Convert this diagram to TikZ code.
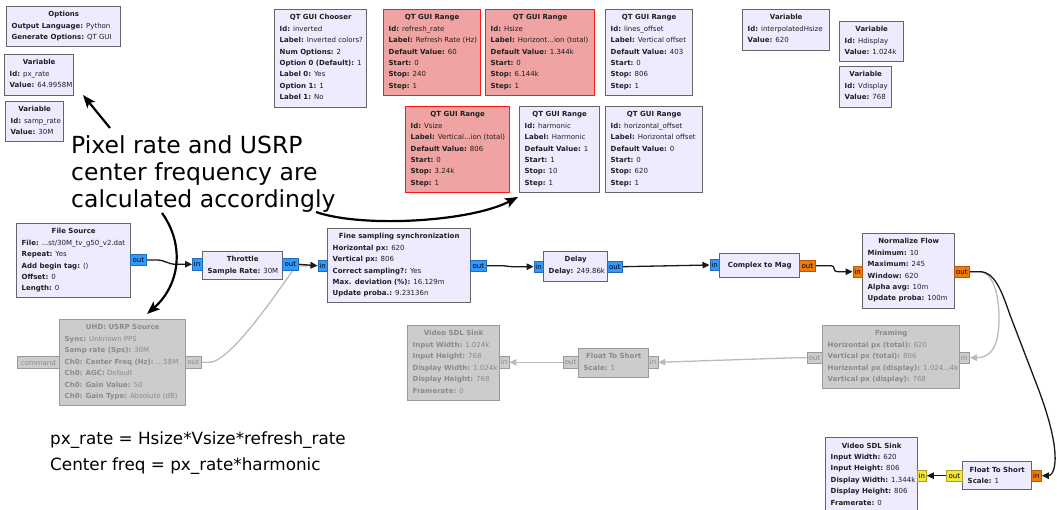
\documentclass[tikz,border=0pt]{standalone}
\usepackage{fontspec}
\setmainfont{DejaVu Sans}
\usetikzlibrary{arrows.meta,calc}

\definecolor{blkfill}{HTML}{EEEBFF}
\definecolor{blkedge}{HTML}{656565}
\definecolor{redfill}{HTML}{F0A3A3}
\definecolor{rededge}{HTML}{FF1A1A}
\definecolor{offfill}{HTML}{CCCCCC}
\definecolor{offedge}{HTML}{9A9A9A}
\definecolor{offtext}{HTML}{8A8A8A}
\definecolor{cplx}{HTML}{3399FF}
\definecolor{fltc}{HTML}{F07A0C}
\definecolor{shrt}{HTML}{F5E63C}
\definecolor{offwire}{HTML}{BBBBBB}

% key: value line of a block
\newcommand\kv[2]{\textbf{#1:} #2}

\tikzset{
  box on/.style={draw=blkedge, fill=blkfill},
  box red/.style={draw=rededge, fill=redfill},
  box off/.style={draw=offedge, fill=offfill},
  grcbox/.style={line width=1.4pt, inner sep=0pt, anchor=north west},
  txt on/.style={text=black!88},
  txt red/.style={text=black!88},
  txt off/.style={text=offtext},
  blkfont/.style={font=\fontsize{7}{8.4}\selectfont, inner sep=0pt},
  ttl/.style={inner sep=0pt, font=\fontsize{7}{8.4}\selectfont\bfseries, anchor=base},
  row/.style={blkfont, anchor=base west},
  port/.style={line width=0.8pt, inner sep=0pt, minimum height=11.5pt, anchor=west,
    font=\fontsize{7}{8}\selectfont},
  port cplx/.style={port, fill=cplx, draw=cplx!70!black},
  port flt/.style={port, fill=fltc, draw=fltc!75!black},
  port shrt/.style={port, fill=shrt, draw=shrt!70!black},
  port off/.style={port, fill=offfill, draw=offedge, text=offtext},
  wire/.style={line width=1.3pt, color=black!90, -{Triangle[length=7pt,width=6.5pt]}},
  wire off/.style={wire, color=offwire},
  note arrow/.style={line width=2.2pt, -{Stealth[length=13pt,width=10pt,inset=3pt]}},
  notefont/.style={font=\fontsize{23.5}{27}\selectfont, inner sep=0pt, align=left},
}

% name, kind, x, y, width, height, title, rows
\newcommand\grcblk[8]{%
  \node[grcbox, box #2, minimum width=#5pt, minimum height=#6pt] (#1) at (#3,-#4) {};
  \node[ttl, txt #2] at ($(#1.north)+(0,-11)$) {#7};
  \foreach \rowtxt [count=\i] in {#8}{%
    \node[row, txt #2] at ($(#1.north west)+(5.5,{-11-11.4*\i})$) {\rowtxt};
  }%
}
% name, kind, x, y-centre, width, label
\newcommand\grcport[6]{%
  \node[port #2, minimum width=#5pt] (#1) at (#3,-#4) {#6};
}
% all ports of the flowgraph
\newcommand\allports{%
  \grcport{fsrcout}{cplx}{130}{260}{16}{out}
  \grcport{thrin}{cplx}{192}{264.3}{9.5}{in}
  \grcport{throut}{cplx}{282}{264.3}{16}{out}
  \grcport{finein}{cplx}{317.5}{265.7}{9.5}{in}
  \grcport{fineout}{cplx}{470}{265.7}{16}{out}
  \grcport{delayin}{cplx}{533.5}{266.7}{9.5}{in}
  \grcport{delayout}{cplx}{607}{266.7}{15}{out}
  \grcport{ctmin}{cplx}{709.5}{265}{9.5}{in}
  \grcport{ctmout}{flt}{799}{265.7}{16}{out}
  \grcport{nfin}{flt}{852.5}{271.7}{9.5}{in}
  \grcport{nfout}{flt}{954}{271.7}{15}{out}
  \grcport{usrpcmd}{off}{17}{362.5}{42}{command}
  \grcport{usrpout}{off}{185}{362.3}{15.5}{out}
  \grcport{vsinkin}{off}{499}{362.3}{9.5}{in}
  \grcport{ftsout}{off}{562.5}{362.3}{15.5}{out}
  \grcport{ftsin}{off}{648}{362.3}{9.5}{in}
  \grcport{frmout}{off}{806.5}{357.7}{15.5}{out}
  \grcport{frmin}{off}{959}{357.7}{10}{in}
  \grcport{vsinkbin}{shrt}{917}{475.7}{9}{in}
  \grcport{ftsbout}{shrt}{946}{475.7}{16}{out}
  \grcport{ftsbin}{flt}{1031}{475.7}{10}{in}
}

\begin{document}
\begin{tikzpicture}[x=1pt,y=1pt]
\fill[white] (0,0) rectangle (1057,-510);
\useasboundingbox (0,0) rectangle (1057,-510);

% ---------- variables and GUI widgets ----------
\grcblk{options}{on}{6}{6}{114}{40}{Options}{{\kv{Output Language}{Python}},{\kv{Generate Options}{QT GUI}}}
\grcblk{varpx}{on}{4}{54}{69}{41}{Variable}{{\kv{Id}{px\_rate}},{\kv{Value}{64.9958M}}}
\grcblk{varsamp}{on}{5}{101}{58}{40}{Variable}{{\kv{Id}{samp\_rate}},{\kv{Value}{30M}}}
\grcblk{chooser}{on}{274}{9}{92}{98}{QT GUI Chooser}{{\kv{Id}{inverted}},{\kv{Label}{Inverted colors?}},{\kv{Num Options}{2}},{\kv{Option 0 (Default)}{1}},{\kv{Label 0}{Yes}},{\kv{Option 1}{1}},{\kv{Label 1}{No}}}
\grcblk{rngrefresh}{red}{383}{9}{97}{86}{QT GUI Range}{{\kv{Id}{refresh\_rate}},{\kv{Label}{Refresh Rate (Hz)}},{\kv{Default Value}{60}},{\kv{Start}{0}},{\kv{Stop}{240}},{\kv{Step}{1}}}
\grcblk{rnghsize}{red}{485}{9}{109}{86}{QT GUI Range}{{\kv{Id}{Hsize}},{\kv{Label}{Horizont...ion (total)}},{\kv{Default Value}{1.344k}},{\kv{Start}{0}},{\kv{Stop}{6.144k}},{\kv{Step}{1}}}
\grcblk{rnglines}{on}{605}{9}{87}{86}{QT GUI Range}{{\kv{Id}{lines\_offset}},{\kv{Label}{Vertical offset}},{\kv{Default Value}{403}},{\kv{Start}{0}},{\kv{Stop}{806}},{\kv{Step}{1}}}
\grcblk{varih}{on}{742}{9}{87}{41}{Variable}{{\kv{Id}{interpolatedHsize}},{\kv{Value}{620}}}
\grcblk{varhd}{on}{839}{21}{64}{40}{Variable}{{\kv{Id}{Hdisplay}},{\kv{Value}{1.024k}}}
\grcblk{varvd}{on}{839}{66}{52}{41}{Variable}{{\kv{Id}{Vdisplay}},{\kv{Value}{768}}}
\grcblk{rngvsize}{red}{405}{106}{104}{86}{QT GUI Range}{{\kv{Id}{Vsize}},{\kv{Label}{Vertical...ion (total)}},{\kv{Default Value}{806}},{\kv{Start}{0}},{\kv{Stop}{3.24k}},{\kv{Step}{1}}}
\grcblk{rngharm}{on}{519}{106}{80}{86}{QT GUI Range}{{\kv{Id}{harmonic}},{\kv{Label}{Harmonic}},{\kv{Default Value}{1}},{\kv{Start}{1}},{\kv{Stop}{10}},{\kv{Step}{1}}}
\grcblk{rnghoff}{on}{605}{106}{97}{86}{QT GUI Range}{{\kv{Id}{horizontal\_offset}},{\kv{Label}{Horizontal offset}},{\kv{Default Value}{0}},{\kv{Start}{0}},{\kv{Stop}{620}},{\kv{Step}{1}}}

% ports first, so the wires can use their anchors
\allports

% ---------- connections ----------
\draw[wire off] (usrpout.east) -- ++(8,0) .. controls +(22,0) and (282,-285) .. (296,-266) -- (finein.west);
\draw[wire off] (nfout.east) -- ++(10,0) .. controls (992,-272) and (999,-292) .. (999,-318)
  .. controls (999,-345) and (992,-357.7) .. (frmin.east);
\draw[wire off] (frmout.west) -- ++(-10,0) -- (ftsin.east);
\draw[wire off] (ftsout.west) -- (vsinkin.east);

\draw[wire] (fsrcout.east) -- ++(10,0) .. controls +(8,0) and +(-8,0) .. ($(thrin.west)+(-16,0)$) -- (thrin.west);
\draw[wire] (throut.east) -- (finein.west);
\draw[wire] (fineout.east) -- ++(12,0) .. controls +(10,0) and +(-10,0) .. ($(delayin.west)+(-18,0)$) -- (delayin.west);
\draw[wire] (delayout.east) -- (ctmin.west);
\draw[wire] (ctmout.east) -- ++(14,0) .. controls +(8,0) and +(-8,0) .. ($(nfin.west)+(-14,0)$) -- (nfin.west);
\draw[wire] (nfout.east) -- ++(10,0) .. controls (995,-271.7) and (1002,-292) .. (1010,-315) -- (1038,-388)
  .. controls (1050,-420) and (1056,-445) .. (1055,-462) .. controls (1054,-474) and (1050,-475.7) .. (ftsbin.east);
\draw[wire] (ftsbout.west) -- (vsinkbin.east);

% ---------- processing blocks ----------
\grcblk{fsrc}{on}{16}{223}{114}{74}{File Source}{{\kv{File}{...st/30M\_tv\_g50\_v2.dat}},{\kv{Repeat}{Yes}},{\kv{Add begin tag}{()}},{\kv{Offset}{0}},{\kv{Length}{0}}}
\grcblk{thr}{on}{202}{251}{80}{28}{Throttle}{{\kv{Sample Rate}{30M}}}
\grcblk{fine}{on}{327}{228}{143}{74}{Fine sampling synchronization}{{\kv{Horizontal px}{620}},{\kv{Vertical px}{806}},{\kv{Correct sampling?}{Yes}},{\kv{Max. deviation (\%)}{16.129m}},{\kv{Update proba.}{9.23136n}}}
\grcblk{delay}{on}{543}{251}{64}{30}{Delay}{{\kv{Delay}{249.86k}}}
\node[grcbox, box on, minimum width=80pt, minimum height=24pt] (ctm) at (719,-253) {};
\node[ttl, txt on, anchor=center] at (ctm.center) {Complex to Mag};
\grcblk{nf}{on}{862}{233}{92}{75}{Normalize Flow}{{\kv{Minimum}{10}},{\kv{Maximum}{245}},{\kv{Window}{620}},{\kv{Alpha avg}{10m}},{\kv{Update proba}{100m}}}
\grcblk{usrp}{off}{59}{319}{126}{86}{UHD: USRP Source}{{\kv{Sync}{Unknown PPS}},{\kv{Samp rate (Sps)}{30M}},{\kv{Ch0: Center Freq (Hz)}{...58M}},{\kv{Ch0: AGC}{Default}},{\kv{Ch0: Gain Value}{50}},{\kv{Ch0: Gain Type}{Absolute (dB)}}}
\grcblk{vsink}{off}{407}{325}{92}{75}{Video SDL Sink}{{\kv{Input Width}{1.024k}},{\kv{Input Height}{768}},{\kv{Display Width}{1.024k}},{\kv{Display Height}{768}},{\kv{Framerate}{0}}}
\grcblk{fts}{off}{578}{348}{70}{29}{Float To Short}{{\kv{Scale}{1}}}
\grcblk{frm}{off}{822}{325}{137}{63}{Framing}{{\kv{Horizontal px (total)}{620}},{\kv{Vertical px (total)}{806}},{\kv{Horizontal px (display)}{1.024...4k}},{\kv{Vertical px (display)}{768}}}
\grcblk{vsinkb}{on}{825}{437}{92}{76}{Video SDL Sink}{{\kv{Input Width}{620}},{\kv{Input Height}{806}},{\kv{Display Width}{1.344k}},{\kv{Display Height}{806}},{\kv{Framerate}{0}}}
\grcblk{ftsb}{on}{962}{461}{69}{28}{Float To Short}{{\kv{Scale}{1}}}

% ports again, on top of the block borders
\allports

% ---------- annotations ----------
\node[notefont, anchor=north west] (note) at (71,-135) {Pixel rate and USRP\\center frequency are\\calculated accordingly};
\node[font=\fontsize{16.8}{26}\selectfont, inner sep=0pt, align=left, anchor=north west] (formula) at (50,-432) {px\_rate = Hsize*Vsize*refresh\_rate\\Center freq = px\_rate*harmonic};

\coordinate (n1s) at (110,-128);
\coordinate (n1e) at (83,-95);
\coordinate (n2s) at (316,-212);
\coordinate (n2e) at (518,-197);
\coordinate (n3s) at (162,-213);
\coordinate (n3e) at (147,-314);
\draw[note arrow] (n1s) -- (n1e);
\draw[note arrow] (n2s) .. controls (362,-228) and (470,-222) .. (n2e);
\draw[note arrow] (n3s) .. controls (185,-245) and (180,-285) .. (n3e);
\end{tikzpicture}
\end{document}
